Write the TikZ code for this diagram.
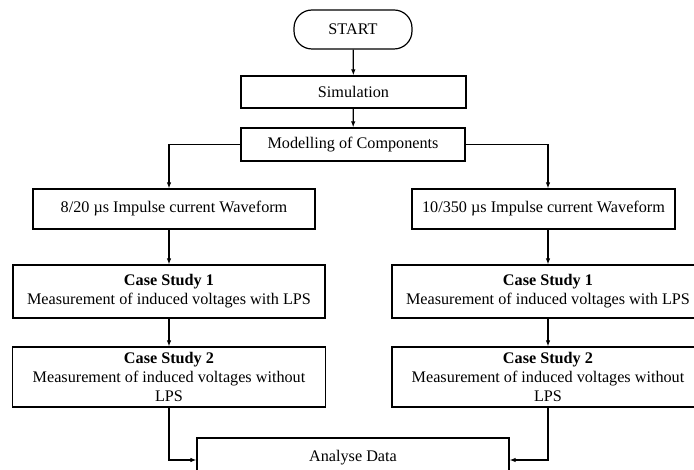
\documentclass[tikz,border=0pt]{standalone}
\usepackage{fontspec}
\setmainfont{Liberation Serif}
\usetikzlibrary{arrows.meta}
\begin{document}
\begin{tikzpicture}[x=1pt,y=-1pt,
  box/.style={draw=black,line width=1.2pt,inner sep=0pt,align=center,font=\fontsize{16.2}{19.2}\selectfont},
  conn/.style={draw=black,line width=1.2pt,-{Latex[length=6pt,width=4.5pt]}}]
\useasboundingbox (0,0) rectangle (694,470);
\fill[white] (0,0) rectangle (694,470);
\clip (0,0) rectangle (694,470);
\node[box,rounded corners=18pt,minimum width=118pt,minimum height=39pt] (start) at (353,29.5) {START};
\node[box,minimum width=225pt,minimum height=32pt] (sim) at (353.5,92) {Simulation};
\node[box,minimum width=224pt,minimum height=33pt] (mod) at (353,144.5) {Modelling of Components};
\node[box,minimum width=282pt,minimum height=40pt] (imp1) at (174,209) {8/20 µs Impulse current Waveform};
\node[box,minimum width=263pt,minimum height=40pt] (imp2) at (543.5,209) {10/350 µs Impulse current Waveform};
\node[box,minimum width=312pt,minimum height=53pt] (csa) at (169,291.5) {\textbf{Case Study 1}\\Measurement of induced voltages with LPS};
\node[box,minimum width=312pt,minimum height=53pt] (csb) at (548,291.5) {\textbf{Case Study 1}\\Measurement of induced voltages with LPS};
\node[box,minimum width=313pt,minimum height=60pt] (cta) at (169,377) {\textbf{Case Study 2}\\Measurement of induced voltages without\\LPS};
\node[box,minimum width=312pt,minimum height=60pt] (ctb) at (548,377) {\textbf{Case Study 2}\\Measurement of induced voltages without\\LPS};
\node[box,minimum width=312pt,minimum height=40pt] (ana) at (353,458) {Analyse Data};
\draw[conn] (start) -- (sim);
\draw[conn] (sim) -- (mod);
\draw[conn] (mod.west) -| (imp1.north -| csa.north);
\draw[conn] (mod.east) -| (imp2.north -| csb.north);
\draw[conn] (imp1.south -| csa.north) -- (csa.north);
\draw[conn] (imp2.south -| csb.north) -- (csb.north);
\draw[conn] (csa) -- (cta);
\draw[conn] (csb) -- (ctb);
\draw[conn] (cta.south) |- ([yshift=-2pt]ana.west);
\draw[conn] (ctb.south) |- ([yshift=-2pt]ana.east);
\end{tikzpicture}
\end{document}
